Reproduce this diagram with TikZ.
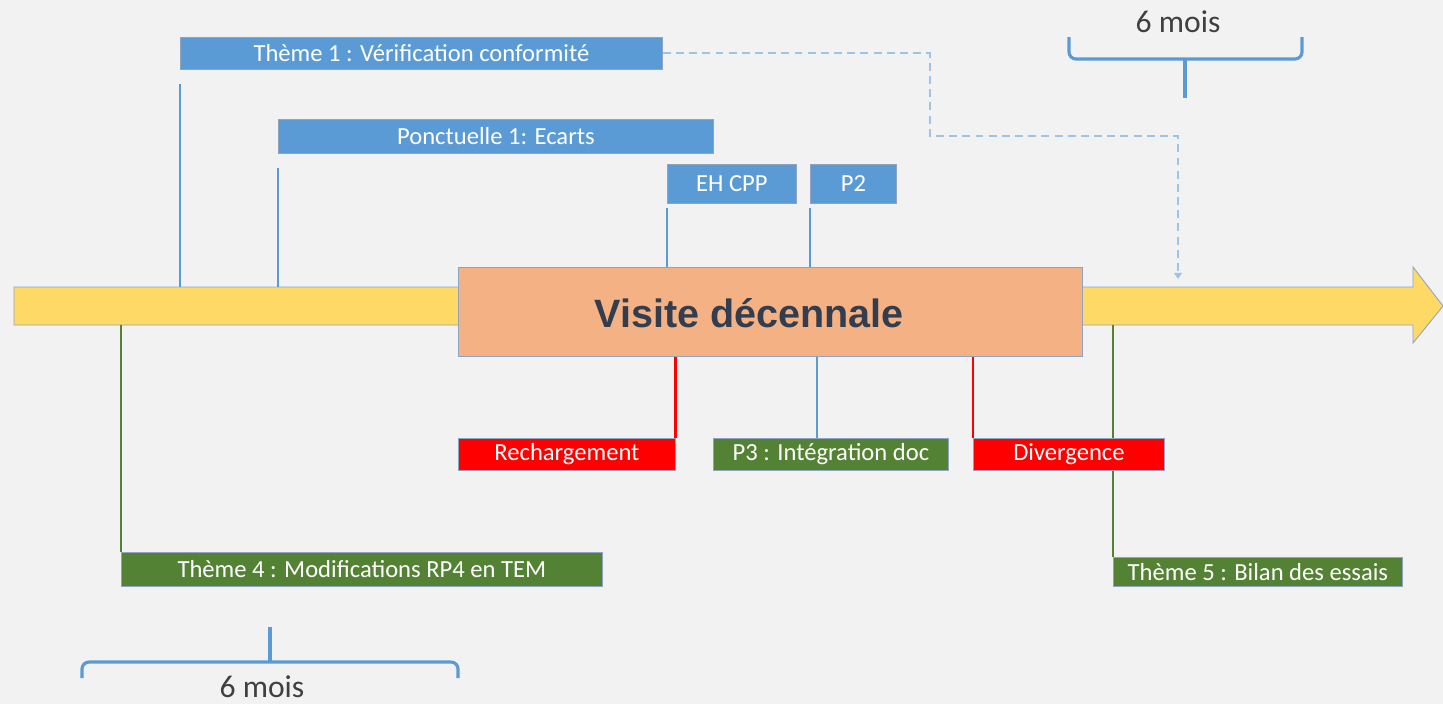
\documentclass[tikz,border=0pt]{standalone}
\usepackage{fontspec}
\setmainfont{Carlito}
\newfontfamily\arialfont{Liberation Sans}
\usetikzlibrary{arrows.meta}

\definecolor{fond}{HTML}{F2F2F2}
\definecolor{bleuc}{HTML}{5B9BD5}
\definecolor{bleupale}{HTML}{9DC3E6}
\definecolor{vertc}{HTML}{548235}
\definecolor{rougec}{HTML}{FF0000}
\definecolor{jaune}{HTML}{FFD966}
\definecolor{orange}{HTML}{F4B183}
\definecolor{bord}{HTML}{8EA4C2}
\definecolor{titre}{HTML}{323E4F}
\definecolor{gristexte}{HTML}{404040}

\begin{document}
\begin{tikzpicture}[x=0.02cm,y=-0.02cm,
  boite/.style={anchor=north west,draw=bord,line width=0.5pt,text=white,
    font=\fontsize{14}{16}\selectfont,inner sep=0pt},
  bleu/.style={boite,fill=bleuc},
  vert/.style={boite,fill=vertc},
  rouge/.style={boite,fill=rougec},
  lbleu/.style={draw=bleuc,line width=1.6pt},
  lvert/.style={draw=vertc,line width=1.6pt},
  lrouge/.style={draw=rougec,line width=1.6pt},
  pointille/.style={draw=bleupale,line width=1.1pt,dash pattern=on 4.5pt off 3pt,
    -{Triangle[width=4.5pt,length=3.5pt]}},
  accol/.style={draw=bleuc,line width=1.8pt,rounded corners=4pt},
  duree/.style={text=gristexte,font=\fontsize{18}{20}\selectfont}]

\useasboundingbox (0,0) rectangle (1443,704);
\fill[fond] (0,0) rectangle (1443,704);

% la frise
\filldraw[fill=jaune,draw=bord,line width=0.5pt] (14,287) -- (1413,287) -- (1413,267)
  -- (1443,306) -- (1413,343) -- (1413,325) -- (14,325) -- cycle;
\coordinate (barh) at (0,287);
\coordinate (barb) at (0,325);
\coordinate (fin) at (1178,279);
\coordinate (c3) at (817,0);

% theme 5 passe sous Divergence
\node[vert,minimum width=5.78cm,minimum height=0.58cm] (t5) at (1113,557) {Thème 5 : Bilan des essais};
\draw[lvert] (t5.north west |- barb) -- (t5.north west);

\node[bleu,minimum width=9.64cm,minimum height=0.64cm] (t1) at (180,37) {Thème 1 : Vérification conformité};
\node[bleu,minimum width=8.70cm,minimum height=0.68cm] (p1) at (278,119) {Ponctuelle 1: Ecarts};
\node[bleu,minimum width=2.58cm,minimum height=0.78cm] (eh) at (667,164) {EH CPP};
\node[bleu,minimum width=1.72cm,minimum height=0.78cm] (p2) at (810,164) {P2};

\node[anchor=north west,draw=bord,line width=0.5pt,fill=orange,inner sep=0pt,
  minimum width=12.48cm,minimum height=1.78cm] (vd) at (458,267) {};
\node[text=titre,font=\arialfont\bfseries\fontsize{22.5}{26}\selectfont]
  (vdt) at ([xshift=-0.42cm,yshift=-0.03cm]vd.center) {Visite décennale};

\node[rouge,minimum width=4.34cm,minimum height=0.64cm] (rech) at (458,438) {Rechargement};
\node[vert,minimum width=4.70cm,minimum height=0.64cm] (p3) at (713,438) {P3 : Intégration doc};
\node[rouge,minimum width=3.82cm,minimum height=0.64cm] (div) at (973,438) {Divergence};
\node[vert,minimum width=9.62cm,minimum height=0.68cm] (t4) at (121,552) {Thème 4 : Modifications RP4 en TEM};

% traits vers la frise
\draw[lbleu] ([yshift=-0.28cm]t1.south west) -- (t1.south west |- barh);
\draw[lbleu] ([yshift=-0.28cm]p1.south west) -- (p1.south west |- barh);
\draw[lbleu] ([yshift=-0.08cm]eh.south west) -- (eh.south west |- vd.north);
\draw[lbleu] ([yshift=-0.08cm]p2.south west) -- (p2.south west |- vd.north);
\draw[lrouge] (rech.north east |- vd.south) -- (rech.north east);
\draw[lbleu] (c3 |- vd.south) -- (c3 |- p3.north);
\draw[lrouge] (div.north west |- vd.south) -- (div.north west);
\draw[lvert] (t4.north west |- barb) -- (t4.north west);

\draw[pointille] (t1.east) -| (930,136) -| (fin);

% accolades
\draw[accol] (1069,37) -- (1069,59) -- (1302,59) -- (1302,37);
\draw[accol] (1185,59) -- (1185,98);
\node[duree] (m1) at (1178,22) {6 mois};

\draw[accol] (82,678) -- (82,662) -- (458,662) -- (458,678);
\draw[accol] (270,662) -- (270,627);
\node[duree] (m2) at (262,687) {6 mois};

\end{tikzpicture}
\end{document}
